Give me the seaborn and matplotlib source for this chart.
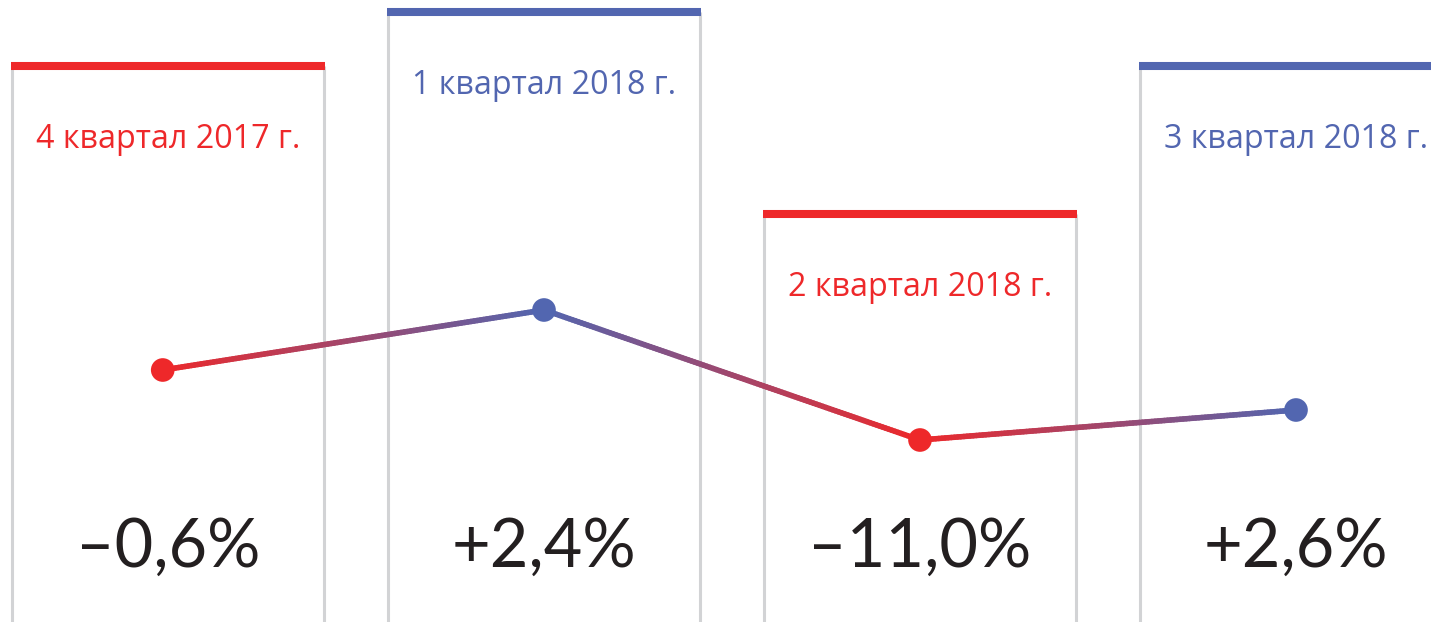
import numpy as np
import pandas as pd
import matplotlib
matplotlib.use("Agg")
import matplotlib.pyplot as plt
from matplotlib.collections import LineCollection
from matplotlib.colors import to_rgb
import seaborn as sns

# ---- data ----
quarters = ["4 квартал 2017 г.", "1 квартал 2018 г.", "2 квартал 2018 г.", "3 квартал 2018 г."]
changes = [-0.6, 2.4, -11.0, 2.6]
value_labels = ["\u20130,6%", "+2,4%", "\u201311,0%", "+2,6%"]
panel_height = [556, 610, 408, 556]     # height of each framed column (chart units)
trend_level = [252, 312, 182, 212]      # illustrative level of the trend marker
trend_offset = [-0.014, 0.0, 0.0, 0.0]  # small horizontal offset of trend markers
series_color = ["red", "blue", "red", "blue"]

RED = "#EE282A"
BLUE = "#5266B0"
GRAY = "#D2D3D5"
TEXT = "#231F20"
palette = {"red": RED, "blue": BLUE}

sns.set_theme(style="white")
plt.rcParams["font.family"] = ["Lato", "DejaVu Sans"]

fig = plt.figure(figsize=(14.31, 6.22), dpi=100)
ax = fig.add_axes([0, 0, 1, 1])

df = pd.DataFrame({"pos": np.arange(len(quarters)), "quarter": quarters,
                   "change": changes, "height": panel_height,
                   "level": trend_level, "series": series_color})
df["tx"] = df["pos"] + np.array(trend_offset)

half = 0.415
# frames
for i, r in df.iterrows():
    c = palette[r.series]
    ax.vlines([r.pos - half, r.pos + half], 0, r.height, color=GRAY, lw=2.2, zorder=1)
    ax.hlines(r.height, r.pos - half - 0.003, r.pos + half + 0.003, color=c, lw=5.8, zorder=2)
    ax.text(r.pos, r.height - 73, r.quarter, ha="center", va="center",
            color=c, fontsize=23.2, family=["Open Sans", "DejaVu Sans"])
    ax.text(r.pos, 622 - 548, value_labels[i], ha="center", va="center",
            color=TEXT, fontsize=48)

# gradient trend line
segs, cols = [], []
for i in range(len(df) - 1):
    x0, x1 = df.tx[i], df.tx[i + 1]
    y0, y1 = df.level[i], df.level[i + 1]
    c0 = np.array(to_rgb(palette[df.series[i]]))
    c1 = np.array(to_rgb(palette[df.series[i + 1]]))
    n = 120
    t = np.linspace(0, 1, n + 1)
    xs = x0 + (x1 - x0) * t
    ys = y0 + (y1 - y0) * t
    for k in range(n):
        segs.append([(xs[k], ys[k]), (xs[k + 1], ys[k + 1])])
        tm = (t[k] + t[k + 1]) / 2
        cols.append(c0 * (1 - tm) + c1 * tm)
lc = LineCollection(segs, colors=cols, linewidths=4.0, capstyle="round", zorder=3)
ax.add_collection(lc)

sns.scatterplot(data=df, x="tx", y="level", hue="series", palette=palette,
                s=290, linewidth=0, legend=False, zorder=4, ax=ax)

x0 = -168 / 376
ax.set_xlim(x0, x0 + 1431 / 376)
ax.set_ylim(0, 622)
ax.axis("off")

fig.savefig("out.png", dpi=100)
